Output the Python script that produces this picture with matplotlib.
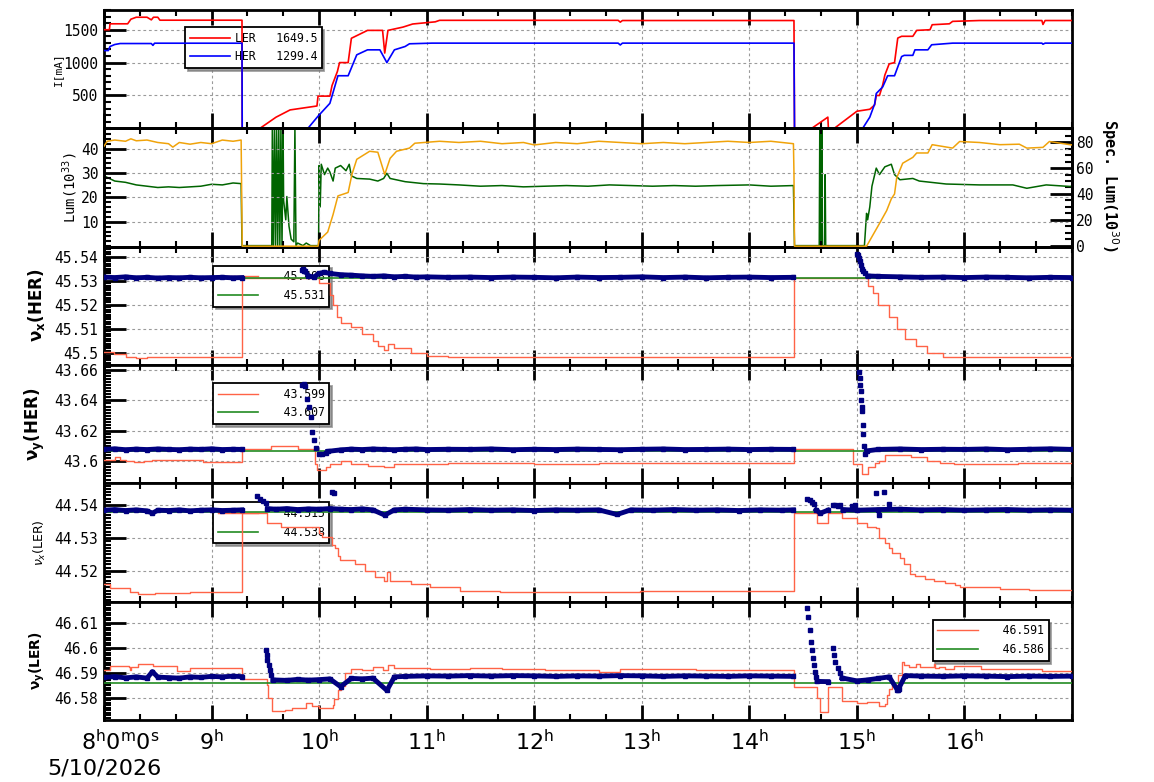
import numpy as np
import matplotlib
matplotlib.use('Agg')
import matplotlib.pyplot as plt
import matplotlib.transforms as mtransforms
from matplotlib.ticker import FixedLocator, MultipleLocator, FuncFormatter
from matplotlib.font_manager import FontProperties

plt.rcParams['font.family'] = ['DejaVu Sans Mono', 'DejaVu Sans']
plt.rcParams['mathtext.fontset'] = 'dejavusans'
nan = np.nan

# ---------------- data ----------------
hour_ticks = [8, 9, 10, 11, 12, 13, 14, 15, 16]
hour_labels = [r'$\mathregular{8^h0^m0^s}$', r'$\mathregular{9^h}$', r'$\mathregular{10^h}$',
               r'$\mathregular{11^h}$', r'$\mathregular{12^h}$', r'$\mathregular{13^h}$',
               r'$\mathregular{14^h}$', r'$\mathregular{15^h}$', r'$\mathregular{16^h}$']
date_label = '5/10/2026'

# Panel 1: beam currents [mA]
ler_t = [8.0, 8.05, 8.056, 8.22, 8.25, 8.3, 8.4, 8.44, 8.46, 8.5, 8.52, 9.0, 9.283, 9.285, 9.45, 9.6, 9.73,
         9.98, 9.99, 10.1, 10.12, 10.17, 10.19, 10.27, 10.3, 10.45, 10.59, 10.61, 10.64, 10.78, 10.87, 11.08,
         11.12, 12.78, 12.8, 12.82, 14.415, 14.42, 14.58, 14.73, 14.735, 14.79, 15.0, 15.12, 15.165, 15.18,
         15.21, 15.24, 15.26, 15.3, 15.35, 15.38, 15.416, 15.52, 15.556, 15.68, 15.70, 15.86, 15.89, 16.14,
         16.72, 16.73, 16.75, 17.0]
ler_v = [1500, 1500, 1590, 1590, 1660, 1690, 1690, 1650, 1690, 1690, 1645, 1645, 1645, 0, 0, 170, 280,
         340, 490, 490, 650, 865, 1000, 1000, 1370, 1490, 1490, 1145, 1490, 1540, 1587, 1620,
         1643, 1643, 1615, 1640, 1640, 0, 0, 170, 0, 0, 260, 290, 355, 500,
         500, 660, 810, 980, 1000, 1373, 1400, 1400, 1490, 1500, 1576, 1590, 1627, 1640,
         1640, 1580, 1640, 1640]
her_t = [8.0, 8.04, 8.056, 8.1, 8.15, 8.44, 8.455, 8.47, 9.283, 9.285, 9.896, 9.99, 10.1, 10.175, 10.27,
         10.35, 10.45, 10.565, 10.63, 10.70, 10.8, 10.84, 11.05, 12.78, 12.8, 12.82, 14.415, 14.42, 15.054,
         15.12, 15.165, 15.18, 15.24, 15.286, 15.35, 15.416, 15.44, 15.52, 15.54, 15.66, 15.695, 15.89,
         16.72, 16.73, 16.75, 17.0]
her_v = [1183, 1183, 1245, 1275, 1290, 1290, 1262, 1295, 1295, 0, 0, 185, 380, 800, 800,
         1118, 1194, 1194, 1000, 1194, 1245, 1286, 1296, 1296, 1268, 1296, 1296, 0, 0,
         170, 370, 530, 630, 800, 800, 1092, 1110, 1110, 1194, 1194, 1271, 1296,
         1296, 1280, 1296, 1296]
ler_legend = 'LER   1649.5'
her_legend = 'HER   1299.4'

# Panel 2: luminosity (left, 1e33) and specific luminosity (right, 1e30)
lum_t = [8.0, 8.03, 8.1, 8.2, 8.25, 8.3, 8.4, 8.5, 8.6, 8.64, 8.7, 8.8, 8.9, 9.0, 9.1, 9.2, 9.275, 9.285,
         9.99, 10.0, 10.08, 10.13, 10.175, 10.27, 10.305, 10.35, 10.47, 10.546, 10.61, 10.66, 10.72, 10.84,
         10.89, 11.12, 11.3, 11.5, 11.7, 11.9, 12.0, 12.2, 12.4, 12.6, 12.8, 13.0, 13.2, 13.4, 13.6, 13.8,
         14.0, 14.2, 14.41, 14.415, 14.42, 15.09, 15.21, 15.277, 15.32, 15.35, 15.37, 15.426, 15.52, 15.556,
         15.66, 15.70, 15.89, 15.955, 16.14, 16.33, 16.51, 16.58, 16.73, 16.79, 16.98, 17.0]
lum_v = [41, 43, 43.5, 43, 44, 43.2, 43.5, 42.5, 42, 40.6, 42.5, 41.8, 42.5, 42, 43.5, 43, 43.5, 0,
         0, 2.4, 5.8, 13, 20.6, 22, 29.4, 35.6, 38.9, 38.5, 29.4, 36, 38.9, 40.2,
         42.2, 43, 42.5, 43, 42, 42.5, 41.5, 42.5, 42, 43, 42.5, 42, 42.5, 42, 42.5, 43,
         42.5, 43, 42, 30, 0, 0, 9.3, 14.6, 19.4, 21.4, 28, 34, 36.4, 38.2,
         38.2, 41.6, 40.2, 42.9, 42.5, 41.6, 41.8, 40.2, 40.5, 42.9, 41.6, 41.5]
slum_t = [8.0, 8.05, 8.1, 8.2, 8.3, 8.4, 8.5, 8.6, 8.7, 8.8, 8.9, 9.0, 9.1, 9.2, 9.275, 9.283, 9.56,
          9.565, 9.575, 9.585, 9.595, 9.605, 9.615, 9.625, 9.635, 9.645, 9.655, 9.665, 9.67, 9.69, 9.70,
          9.72, 9.74, 9.765, 9.775, 9.785, 9.80, 9.85, 9.88, 9.92, 9.995, 10.0, 10.01, 10.02, 10.05, 10.08,
          10.1, 10.13, 10.15, 10.2, 10.25, 10.28, 10.3, 10.35, 10.47, 10.546, 10.6, 10.63, 10.66, 10.8,
          10.97, 11.12, 11.3, 11.5, 11.7, 11.9, 12.1, 12.3, 12.5, 12.7, 12.9, 13.1, 13.3, 13.5, 13.7, 14.0,
          14.2, 14.41, 14.415, 14.42, 14.65, 14.655, 14.66, 14.665, 14.67, 14.675, 14.68, 14.70, 14.705,
          14.71, 15.07, 15.09, 15.1, 15.12, 15.14, 15.18, 15.21, 15.26, 15.32, 15.35, 15.4, 15.52, 15.58,
          15.83, 16.14, 16.45, 16.58, 16.76, 16.98, 17.0]
slum_v = [54, 52, 50, 49, 47, 46, 45, 45.5, 45, 45.5, 46, 47.5, 47, 48.5, 48, 0, 0,
          91, 0, 91, 0, 91, 0, 91, 0, 91, 0, 91, 35, 20, 38,
          15, 5, 3, 91, 0, 2, 0, 2, 0, 0, 62, 30, 63, 55, 60,
          57, 50, 60, 62, 58, 63, 54, 52, 51.5, 50, 52, 56, 52, 49.5,
          48, 47.7, 47, 46, 46.5, 45.5, 46, 46.5, 46, 47, 46.5, 46, 46.5, 46, 46.5, 47,
          46, 46.5, 23, 0, 0, 91, 0, 91, 0, 91, 0, 0, 55,
          0, 0, 25, 20, 30, 46, 60, 55, 61, 63, 55, 51, 52, 50,
          47.7, 47, 47, 44.4, 47, 45.8, 46]

# Panel 3: nu_x(HER)
hxr_t = [8.0, 8.09, 8.2, 8.3, 8.4, 9.283, 10.0, 10.1, 10.13, 10.17, 10.2, 10.3, 10.4, 10.5, 10.55, 10.6,
         10.64, 10.7, 10.85, 11.0, 11.2, 14.415, 15.1, 15.15, 15.2, 15.3, 15.37, 15.45, 15.55, 15.65, 15.8,
         16.0, 17.0]
hxr_v = [45.5004, 45.4995, 45.4985, 45.498, 45.4985, 45.531, 45.5289, 45.524, 45.52, 45.515, 45.5125,
         45.511, 45.508, 45.505, 45.503, 45.5015, 45.504, 45.502, 45.5, 45.499, 45.4985, 45.531, 45.528,
         45.525, 45.52, 45.515, 45.51, 45.506, 45.503, 45.5, 45.4985, 45.4985, 45.4985]
hxb_t = [8.0, 8.1, 8.2, 8.3, 8.4, 8.5, 8.6, 8.7, 8.8, 8.9, 9.0, 9.1, 9.2, 9.28, 9.29, 9.87, 9.9, 9.95,
         10.0, 10.05, 10.1, 10.2, 10.3, 10.4, 10.5, 10.6, 10.7, 10.8, 10.9, 11.0, 11.2, 11.4, 11.6, 11.8,
         12.0, 12.2, 12.4, 12.6, 12.8, 13.0, 13.2, 13.4, 13.6, 13.8, 14.0, 14.2, 14.41, 14.42, 15.1, 15.2,
         15.4, 15.6, 15.8, 16.0, 16.2, 16.4, 16.6, 16.8, 17.0]
hxb_v = [45.5315, 45.5313, 45.5316, 45.5312, 45.5314, 45.5311, 45.5313, 45.5312, 45.5314, 45.5312,
         45.5313, 45.5314, 45.5312, 45.5313, nan, 45.534, 45.532, 45.5315, 45.533, 45.5335, 45.533,
         45.5325, 45.5323, 45.532, 45.5318, 45.532, 45.5316, 45.5318, 45.5315, 45.5316, 45.5314, 45.5315,
         45.5313, 45.5315, 45.5314, 45.5312, 45.5315, 45.5313, 45.5314, 45.5316, 45.5313, 45.5315, 45.5312,
         45.5314, 45.5315, 45.5313, 45.5314, nan, 45.532, 45.5318, 45.5316, 45.5314, 45.5315, 45.5313,
         45.5315, 45.5314, 45.5312, 45.5314, 45.5313]
hxd_t = [9.84, 9.85, 9.86, 15.0, 15.01, 15.02, 15.03, 15.04, 15.05, 15.06, 15.08]
hxd_v = [45.5345, 45.5348, 45.5342, 45.541, 45.5405, 45.5395, 45.538, 45.5365, 45.535, 45.534, 45.533]
hx_ref = 45.531
hx_red_legend = 45.498

# Panel 4: nu_y(HER)
hyr_t = [8.0, 8.1, 8.15, 8.2, 8.28, 8.37, 8.45, 8.92, 9.283, 9.49, 9.55, 9.8, 9.94, 9.96, 9.98, 10.06,
         10.1, 10.15, 10.2, 10.3, 10.45, 10.6, 10.7, 10.9, 11.2, 12.0, 12.6, 14.415, 14.96, 15.05, 15.1,
         15.165, 15.21, 15.26, 15.5, 15.65, 15.77, 15.9, 16.5, 16.75, 17.0]
hyr_v = [43.6011, 43.6026, 43.601, 43.6, 43.5995, 43.6, 43.601, 43.5995, 43.6078, 43.6083, 43.6101,
         43.6078, 43.6077, 43.598, 43.5945, 43.5965, 43.598, 43.5985, 43.6, 43.5985, 43.597, 43.5965,
         43.598, 43.5985, 43.599, 43.5985, 43.599, 43.6079, 43.598, 43.5915, 43.596, 43.599, 43.6003,
         43.604, 43.603, 43.6, 43.599, 43.5985, 43.599, 43.5988, 43.5988]
hyb_t = [8.0, 8.1, 8.2, 8.3, 8.4, 8.5, 8.6, 8.7, 8.8, 8.9, 9.0, 9.1, 9.2, 9.28, 9.29, 10.08, 10.2, 10.3,
         10.4, 10.5, 10.6, 10.7, 10.8, 10.9, 11.0, 11.2, 11.4, 11.6, 11.8, 12.0, 12.2, 12.4, 12.6, 12.8,
         13.0, 13.2, 13.4, 13.6, 13.8, 14.0, 14.2, 14.41, 14.42, 15.09, 15.2, 15.4, 15.6, 15.8, 16.0, 16.2,
         16.4, 16.6, 16.8, 17.0]
hyb_v = [43.6078, 43.6082, 43.6076, 43.608, 43.6077, 43.6081, 43.6078, 43.6076, 43.608, 43.6078,
         43.6082, 43.6077, 43.6079, 43.6078, nan, 43.6065, 43.6075, 43.608, 43.6077, 43.6081, 43.6078,
         43.6076, 43.6079, 43.6081, 43.6077, 43.6079, 43.6078, 43.6081, 43.6076, 43.6079, 43.6077, 43.608,
         43.6078, 43.6076, 43.6079, 43.6081, 43.6077, 43.6078, 43.608, 43.6077, 43.6079, 43.6078, nan,
         43.6068, 43.6078, 43.6081, 43.6077, 43.6079, 43.6078, 43.6081, 43.6076, 43.6079, 43.6082, 43.6078]
hyd_t = [9.84, 9.86, 9.87, 9.89, 9.91, 9.92, 9.935, 9.95, 9.97, 10.0, 10.03, 10.06, 15.02, 15.025,
         15.03, 15.035, 15.04, 15.045, 15.05, 15.055, 15.06, 15.065, 15.08]
hyd_v = [43.650, 43.6505, 43.6495, 43.641, 43.636, 43.629, 43.619, 43.614, 43.609, 43.605, 43.6045,
         43.6055, 43.659, 43.655, 43.650, 43.646, 43.640, 43.636, 43.633, 43.624, 43.618, 43.610, 43.605]
hy_ref = 43.607
hy_red_legend = 43.599

# Panel 5: nu_x(LER)
lxr_t = [8.0, 8.06, 8.24, 8.32, 8.47, 8.8, 9.283, 9.52, 9.645, 9.998, 10.026, 10.116, 10.147, 10.178,
         10.19, 10.33, 10.43, 10.52, 10.6, 10.63, 10.66, 10.85, 11.03, 11.31, 11.68, 12.98, 14.415, 14.626,
         14.73, 14.86, 15.0, 15.09, 15.18, 15.21, 15.26, 15.3, 15.33, 15.4, 15.44, 15.49, 15.54, 15.63,
         15.72, 15.816, 15.91, 15.955, 16.33, 16.6, 17.0]
lxr_v = [44.516, 44.5148, 44.5136, 44.5129, 44.5132, 44.5135, 44.5377, 44.5346, 44.5334, 44.5316,
         44.5302, 44.5279, 44.5269, 44.5245, 44.5233, 44.522, 44.52, 44.518, 44.517, 44.5195, 44.517,
         44.516, 44.515, 44.514, 44.5135, 44.5138, 44.5378, 44.5345, 44.5378, 44.536, 44.5345, 44.5334,
         44.533, 44.530, 44.5284, 44.527, 44.5255, 44.524, 44.522, 44.519, 44.5184, 44.5175, 44.517,
         44.5162, 44.5157, 44.515, 44.5145, 44.5142, 44.5142]
lxb_t = [8.0, 8.1, 8.2, 8.3, 8.4, 8.45, 8.5, 8.6, 8.7, 8.8, 8.9, 9.0, 9.1, 9.2, 9.28, 9.29, 9.52, 9.6,
         9.7, 9.8, 9.9, 10.0, 10.1, 10.2, 10.3, 10.4, 10.5, 10.61, 10.7, 10.8, 11.0, 11.2, 11.4, 11.6, 11.8,
         12.0, 12.2, 12.4, 12.6, 12.77, 12.9, 13.1, 13.3, 13.5, 13.7, 13.9, 14.1, 14.3, 14.41, 14.42, 14.62,
         14.66, 14.73, 14.74, 14.87, 15.0, 15.2, 15.4, 15.6, 15.8, 16.0, 16.2, 16.4, 16.6, 16.8, 17.0]
lxb_v = [44.5385, 44.5387, 44.5384, 44.5386, 44.5383, 44.5376, 44.5385, 44.5384, 44.5386, 44.5383,
         44.5385, 44.5386, 44.5384, 44.5385, 44.5386, nan, 44.539, 44.5388, 44.539, 44.5387, 44.5389,
         44.5388, 44.539, 44.5388, 44.5387, 44.5389, 44.5386, 44.537, 44.5386, 44.5388, 44.5386, 44.5385,
         44.5387, 44.5385, 44.5386, 44.5384, 44.5386, 44.5385, 44.5386, 44.5372, 44.5386, 44.5385,
         44.5387, 44.5385, 44.5386, 44.5384, 44.5386, 44.5385, 44.5386, nan, 44.5386, 44.5376, 44.5385,
         nan, 44.5387, 44.5385, 44.5387, 44.5388, 44.5386, 44.5387, 44.5385, 44.5386, 44.5387, 44.5385,
         44.5386, 44.5385]
lxd_t = [9.42, 9.45, 9.48, 9.51, 10.12, 10.14, 14.54, 14.56, 14.58, 14.6, 14.78, 14.8, 14.82, 14.84,
         14.95, 14.98, 15.18, 15.21, 15.25, 15.3]
lxd_v = [44.5428, 44.542, 44.5413, 44.5408, 44.5442, 44.5438, 44.542, 44.5415, 44.541, 44.5405,
         44.5401, 44.54, 44.5399, 44.5401, 44.5399, 44.54, 44.5436, 44.537, 44.544, 44.5405]
lx_ref = 44.538
lx_red_legend = 44.515

# Panel 6: nu_y(LER)
lyr_t = [8.0, 8.056, 8.23, 8.24, 8.25, 8.32, 8.455, 8.68, 8.80, 9.283, 9.515, 9.524, 9.56, 9.645, 9.68,
         9.747, 9.877, 9.933, 9.998, 10.128, 10.14, 10.18, 10.2, 10.24, 10.3, 10.4, 10.5, 10.59, 10.64,
         10.7, 11.03, 11.4, 11.7, 12.1, 12.6, 12.8, 13.5, 14.415, 14.626, 14.654, 14.73, 14.86, 15.0,
         15.09, 15.21, 15.26, 15.277, 15.3, 15.33, 15.38, 15.416, 15.44, 15.48, 15.55, 15.59, 15.72, 15.73,
         15.76, 15.82, 15.9, 16.15, 16.72, 17.0]
lyr_v = [46.5911, 46.5928, 46.5925, 46.591, 46.5925, 46.5935, 46.5928, 46.5908, 46.5918, 46.5876,
         46.585, 46.58, 46.5749, 46.5747, 46.575, 46.5759, 46.578, 46.5766, 46.576, 46.577, 46.5795,
         46.5832, 46.5848, 46.59, 46.5915, 46.591, 46.5922, 46.591, 46.593, 46.592, 46.5915, 46.592,
         46.5915, 46.591, 46.5905, 46.5915, 46.591, 46.5845, 46.58, 46.5745, 46.5845, 46.5788, 46.578,
         46.5785, 46.5768, 46.5775, 46.5812, 46.5835, 46.5852, 46.589, 46.5944, 46.5931, 46.5925,
         46.5935, 46.5925, 46.5935, 46.5919, 46.5925, 46.5916, 46.5927, 46.5915, 46.5909, 46.5909]
lyb_t = [8.0, 8.1, 8.2, 8.3, 8.4, 8.45, 8.5, 8.6, 8.7, 8.8, 8.9, 9.0, 9.1, 9.2, 9.28, 9.29, 9.57, 9.7,
         9.8, 9.9, 10.0, 10.1, 10.2, 10.3, 10.4, 10.5, 10.63, 10.7, 10.8, 11.0, 11.2, 11.4, 11.6, 11.8,
         12.0, 12.2, 12.4, 12.6, 12.8, 13.0, 13.2, 13.4, 13.6, 13.8, 14.0, 14.2, 14.41, 14.42, 14.63,
         14.73, 14.74, 14.86, 15.0, 15.1, 15.2, 15.3, 15.38, 15.45, 15.6, 15.8, 16.0, 16.2, 16.4, 16.6,
         16.8, 17.0]
lyb_v = [46.5882, 46.5885, 46.588, 46.5884, 46.5879, 46.5905, 46.5883, 46.5881, 46.5879, 46.5884,
         46.5882, 46.5886, 46.5884, 46.5887, 46.5885, nan, 46.5872, 46.587, 46.5874, 46.5871, 46.5873,
         46.5876, 46.5845, 46.5878, 46.5876, 46.5879, 46.583, 46.5884, 46.5886, 46.5888, 46.5887,
         46.5889, 46.5887, 46.5889, 46.5888, 46.5886, 46.5888, 46.5887, 46.5889, 46.5888, 46.5886,
         46.5888, 46.5887, 46.5886, 46.5888, 46.5887, 46.5886, nan, 46.5866, 46.5865, nan, 46.588,
         46.5868, 46.5872, 46.5878, 46.5884, 46.583, 46.5889, 46.5887, 46.5886, 46.5888, 46.5887,
         46.5885, 46.5887, 46.5886, 46.5887]
lyd_t = [9.51, 9.515, 9.52, 9.53, 9.54, 9.55, 14.54, 14.55, 14.56, 14.57, 14.58, 14.59, 14.6, 14.61,
         14.62, 14.78, 14.79, 14.8, 14.82, 14.84, 15.37, 15.39]
lyd_v = [46.599, 46.597, 46.595, 46.593, 46.591, 46.589, 46.616, 46.6124, 46.607, 46.6025, 46.599,
         46.596, 46.593, 46.5905, 46.5882, 46.600, 46.597, 46.5945, 46.592, 46.590, 46.5832, 46.5835]
ly_ref = 46.586
ly_red_legend = 46.591

# ---------------- styling ----------------
C_RED, C_BLUE = '#ff0000', '#0000ff'
C_ORANGE, C_DGREEN = '#f0a30a', '#006400'
C_STEP, C_REF, C_DOT = '#ff6347', '#228b22', '#000080'

W, H = 1154, 782
fig = plt.figure(figsize=(W / 100, H / 100), dpi=100)
fig.patch.set_facecolor('white')
x0, x1 = 104, 1072
top, bot = 10, 720
ph = (bot - top) / 6.0
axes = []
for i in range(6):
    y_bottom = top + (i + 1) * ph
    ax = fig.add_axes([x0 / W, 1 - y_bottom / H, (x1 - x0) / W, ph / H],
                      sharex=axes[0] if axes else None)
    axes.append(ax)

fmt = FuncFormatter(lambda v, p: ('%.3f' % v).rstrip('0').rstrip('.'))
grid_kw = dict(color='#9a9a9a', lw=0.8, ls=(0, (2.5, 2.5)))


def style(ax, yticks, yminor, ylim):
    ax.set_xlim(8, 17)
    ax.set_ylim(*ylim)
    ax.xaxis.set_major_locator(FixedLocator(hour_ticks))
    ax.xaxis.set_minor_locator(MultipleLocator(1 / 3))
    ax.yaxis.set_major_locator(FixedLocator(yticks))
    ax.yaxis.set_minor_locator(MultipleLocator(yminor))
    ax.yaxis.set_major_formatter(fmt)
    ax.tick_params(axis='x', which='both', direction='in', top=True, bottom=True, labelbottom=False)
    ax.tick_params(axis='x', which='major', length=11, width=2)
    ax.tick_params(axis='x', which='minor', length=4, width=1.5)
    ax.tick_params(axis='y', which='both', direction='in', left=True, right=False)
    ax.tick_params(axis='y', which='major', length=16, width=2, labelsize=10.5, pad=4)
    ax.tick_params(axis='y', which='minor', length=5, width=1.5)
    for s in ax.spines.values():
        s.set_linewidth(2)
    ax.grid(True, which='major', **grid_kw)


leg_font = FontProperties(family='DejaVu Sans Mono', size=8.3)


def add_legend(ax, anchor):
    leg = ax.legend(loc='upper left', bbox_to_anchor=anchor, borderaxespad=0, fancybox=False,
                    shadow={'color': '#7a7a7a', 'alpha': 0.7}, edgecolor='black', framealpha=1,
                    prop=leg_font, handlelength=3.5, handletextpad=0.4)
    leg.get_frame().set_linewidth(1.3)
    leg.set_zorder(1.8)
    return leg


# Panel 1
ax = axes[0]
ax.plot(ler_t, ler_v, color=C_RED, lw=1.2, label=ler_legend, zorder=3)
ax.plot(her_t, her_v, color=C_BLUE, lw=1.2, label=her_legend, zorder=3)
style(ax, [500, 1000, 1500], 100, (0, 1800))
add_legend(ax, (0.0837, 0.856))
ax.set_ylabel('I[mA]', fontsize=8)
ax.yaxis.set_label_coords(-0.0424, 0.5)

# Panel 2
ax = axes[1]
ax2 = ax.twinx()
ax2.plot(slum_t, slum_v, color=C_DGREEN, lw=1.1)
ax.plot(lum_t, lum_v, color=C_ORANGE, lw=1.1, zorder=3)
style(ax, [10, 20, 30, 40], 2, (-0.2, 48.3))
ax2.set_ylim(-0.8, 90.8)
ax2.yaxis.set_major_locator(FixedLocator([0, 20, 40, 60, 80]))
ax2.yaxis.set_minor_locator(MultipleLocator(5))
ax2.tick_params(axis='y', which='both', direction='in', right=True, left=False)
ax2.tick_params(axis='y', which='major', length=16, width=2, labelsize=10.5, pad=3)
ax2.tick_params(axis='y', which='minor', length=5, width=1.5)
for s in ax2.spines.values():
    s.set_linewidth(2)
ax.set_zorder(ax2.get_zorder() + 1)
ax.patch.set_visible(False)
ax.set_ylabel('Lum(10$^{33}$)', fontsize=10)
ax.yaxis.set_label_coords(-0.0248, 0.5)
fig.text(1110 / W, 1 - 185 / H, 'Spec. Lum(10$^{30}$)', rotation=270, ha='center', va='center',
         fontsize=11, fontweight='bold', family='DejaVu Sans Mono')

# Tune panels
tune_specs = [
    (axes[2], hxr_t, hxr_v, hxb_t, hxb_v, hxd_t, hxd_v, hx_ref, hx_red_legend,
     [45.5, 45.51, 45.52, 45.53, 45.54], 0.001, (45.4951, 45.5441), (0.1126, 0.839),
     r'$\mathbf{\nu_x}$(HER)', 12, 'bold', -0.0589),
    (axes[3], hyr_t, hyr_v, hyb_t, hyb_v, hyd_t, hyd_v, hy_ref, hy_red_legend,
     [43.6, 43.62, 43.64, 43.66], 0.002, (43.5855, 43.6633), (0.1126, 0.847),
     r'$\mathbf{\nu_y}$(HER)', 12, 'bold', -0.0589),
    (axes[4], lxr_t, lxr_v, lxb_t, lxb_v, lxd_t, lxd_v, lx_ref, lx_red_legend,
     [44.52, 44.53, 44.54], 0.001, (44.5106, 44.5467), (0.1126, 0.839),
     r'$\nu_x$(LER)', 9, 'normal', -0.0579),
    (axes[5], lyr_t, lyr_v, lyb_t, lyb_v, lyd_t, lyd_v, ly_ref, ly_red_legend,
     [46.58, 46.59, 46.6, 46.61], 0.001, (46.5712, 46.6184), (0.856, 0.847),
     r'$\mathbf{\nu_y}$(LER)', 10, 'bold', -0.0589),
]
for (ax, rt, rv, bt, bv, dt, dv, ref, rleg, yt, ymin, ylim, anchor, ylab, yls, ylw, lx) in tune_specs:
    ax.step(rt, rv, where='post', color=C_STEP, lw=1.0, zorder=3, label='   %.3f' % rleg)
    ax.axhline(ref, color=C_REF, lw=1.2, zorder=3, label='   %.3f' % ref)
    ax.plot(bt, bv, color=C_DOT, lw=3.5, marker='s', ms=3, zorder=4)
    ax.plot(dt, dv, color=C_DOT, ls='none', marker='s', ms=3.2, zorder=4)
    style(ax, yt, ymin, ylim)
    add_legend(ax, anchor)
    ax.set_ylabel(ylab, fontsize=yls, fontweight=ylw, family='DejaVu Sans')
    ax.yaxis.set_label_coords(lx, 0.5)

# Bottom time labels
axb = axes[-1]
for i, (h, lab) in enumerate(zip(hour_ticks, hour_labels)):
    dx = 16 / 100 if i == 0 else 0
    tr = mtransforms.blended_transform_factory(axb.transData, axb.transAxes) + \
        mtransforms.ScaledTranslation(dx, -9 / 100, fig.dpi_scale_trans)
    axb.text(h, 0, lab, transform=tr, ha='center', va='top', fontsize=16, family='DejaVu Sans')
fig.text(104.5 / W, 1 - 768 / H, date_label, ha='center', va='center', fontsize=16,
         family='DejaVu Sans')

fig.savefig('out.png', dpi=100, facecolor='white')
